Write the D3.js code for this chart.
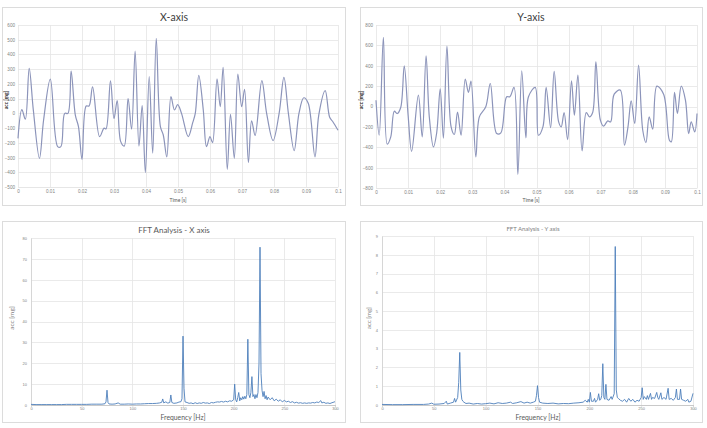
<!DOCTYPE html>
<html><head><meta charset="utf-8">
<script src="https://cdn.jsdelivr.net/npm/d3@7"></script>
<style>
body{margin:0;background:#fff}
svg{display:block;font-family:Lato,"Open Sans","Liberation Sans",sans-serif}
</style>
</head><body>
<svg id="c" width="707" height="428"></svg>
<script>
// ---------- DATA ----------
// X-axis time signal
const timeX = [0,0.0012,0.0023,0.0035,0.0048,0.0067,0.008,0.0101,0.0124,0.0134,0.0146,0.0156,0.0166,0.0179,0.0189,0.02,0.0213,0.0222,0.0233,0.0255,0.0269,0.0275,0.0289,0.03,0.031,0.0321,0.0332,0.0344,0.0355,0.0366,0.0378,0.0388,0.0398,0.041,0.0421,0.0432,0.0445,0.0454,0.0465,0.0478,0.0489,0.0499,0.0511,0.0532,0.0546,0.0554,0.0565,0.0579,0.0589,0.0600,0.0608,0.0622,0.0632,0.0641,0.0654,0.0664,0.0676,0.0687,0.0699,0.0708,0.072,0.073,0.0741,0.0762,0.0777,0.0797,0.0816,0.0831,0.0845,0.0863,0.0878,0.0893,0.0907,0.0928,0.094,0.096,0.0974,0.0984,0.1];
const accX  = [-170,25,-40,305,20,-305,-45,233,-226,-226,0,0,287,-10,-90,-312,50,50,180,-158,-100,-106,220,-35,86,-192,-222,100,-108,423,-222,52,-402,250,-270,510,-90,-147,-295,113,23,60,0,-158,-63,0,258,23,-226,-158,-199,235,45,312,-380,-7,-305,267,45,163,-333,-50,-150,222,0,-185,0,244,0,-253,0,106,68,-295,-10,154,-27,-57,-115];

// Y-axis time signal
const timeY = [0,0.001,0.0023,0.0035,0.0046,0.0057,0.0066,0.0077,0.0088,0.01,0.0111,0.0132,0.0144,0.0156,0.0166,0.0179,0.0189,0.02,0.021,0.0221,0.0234,0.0244,0.0254,0.0265,0.0278,0.0288,0.0296,0.0311,0.0322,0.0342,0.0356,0.0376,0.0389,0.0407,0.0417,0.043,0.0442,0.0454,0.0467,0.0475,0.0496,0.0506,0.0520,0.053,0.0544,0.0555,0.0569,0.0577,0.0586,0.0597,0.0609,0.0618,0.0629,0.0642,0.0655,0.0665,0.0675,0.0685,0.0699,0.0709,0.0722,0.0731,0.0742,0.0761,0.0774,0.0785,0.0795,0.0806,0.0818,0.0831,0.0841,0.0851,0.0862,0.0875,0.0896,0.0914,0.092,0.093,0.0939,0.0951,0.0964,0.0974,0.0982,0.0993,0.1];
const accY  = [62,-282,679,-370,-298,-46,-69,-10,400,-85,-440,111,-298,498,-100,-397,-260,174,-311,593,-200,-275,-56,-282,269,138,249,-495,-102,-3,226,-266,-259,95,95,187,-666,351,-308,95,187,-282,-200,187,-207,344,-151,-200,-59,-325,252,-85,308,-436,-59,-102,-59,439,-134,-193,-141,-151,121,161,-380,-200,56,-167,407,-233,-354,-102,-223,200,121,-331,-347,138,-69,200,62,-266,-151,-249,-69];

// FFT X axis
const fftXFreq = [0,5,10,15,20,25,30,35,40,45,50,55,60,65,70,73,74,75,76,77,80,83,86,88,92,96,100,104,108,112,116,120,124,127,129,130,131,133,135,137,138,139,141,144,146,148,149,150,151,152,154,156,158,160,162,164,166,168,170,172,174,176,178,180,182,184,186,188,190,192,194,196,198,200,201,202,203,204,205,206,207,208,209,210,211,212,213,214,215,216,217,218,219,220,221,222,223,224,225,226,227,228,229,230,231,232,233,234,236,238,240,242,244,246,248,250,252,254,256,258,260,262,264,266,268,270,272,274,276,278,280,282,284,286,287,289,291,293,295,297,299,300];
const fftXAmp  = [0.3,0.2,0.2,0.2,0.2,0.2,0.2,0.3,0.3,0.3,0.3,0.3,0.4,0.4,0.4,0.6,1.5,7.1,1.2,0.5,0.4,0.5,1.0,0.4,0.4,0.5,0.4,0.5,0.5,0.6,0.7,0.7,0.8,1.0,1.3,2.9,1.0,1.5,0.9,1.2,4.8,1.2,0.8,1.0,1.4,1.6,3.0,33,8,1.5,1.2,0.8,1.0,0.6,1.1,0.7,1.0,0.8,1.2,0.9,1.0,0.7,1.2,1.0,1.3,1.5,1.4,1.7,1.4,1.8,1.5,2.0,1.8,2.5,10,2.5,1.5,3.5,6,2,3.5,2.5,4,2.8,4.2,3,5,31.5,5,3.5,6,13.6,4,5,3,5,3.5,6,20,75.6,15,7,4,6.5,3,4.5,2.5,3.8,2.5,3.5,2,2.8,1.8,2.5,1.5,2.2,1.5,1.8,1.2,1.6,1.0,1.3,0.9,1.1,0.8,1.0,0.8,1.0,0.9,1.2,1.0,1.4,1.2,2.1,1.0,1.3,0.8,1.0,0.7,1.1,1.4,1.6];

// FFT Y axis
const fftYFreq = [0,10,20,30,40,45,48,50,55,60,62,63,66,69,70,71,73,74,75,76,77,78,79,81,84,88,92,96,100,104,108,112,116,120,124,126,130,134,137,140,143,146,148,149,150,151,152,155,160,165,170,175,180,185,190,194,196,198,199,200,201,202,204,205,206,208,209,210,211,212,213,214,215,216,217,219,221,222,224,225,226,227,228,230,232,234,236,238,240,242,244,246,248,250,251,252,253,255,256,257,259,260,261,263,265,266,267,269,270,272,274,276,277,279,281,283,284,285,287,288,289,291,293,295,296,298,300];
const fftYAmp  = [0.03,0.02,0.02,0.03,0.03,0.05,0.1,0.04,0.05,0.08,0.2,0.05,0.1,0.15,0.35,0.15,0.4,1.2,2.8,0.8,0.3,0.2,0.15,0.08,0.1,0.05,0.08,0.05,0.07,0.1,0.06,0.12,0.08,0.1,0.15,0.08,0.12,0.18,0.1,0.15,0.1,0.15,0.2,0.5,1.03,0.4,0.15,0.1,0.08,0.1,0.06,0.08,0.07,0.1,0.12,0.15,0.25,0.15,0.3,0.15,0.67,0.2,0.2,0.35,0.15,0.3,0.6,0.25,0.3,0.5,2.2,0.4,0.3,1.1,0.3,0.25,0.45,0.3,0.6,8.44,0.8,0.4,0.35,0.25,0.2,0.3,0.15,0.35,0.2,0.3,0.15,0.25,0.2,0.4,0.92,0.3,0.45,0.3,0.5,0.3,0.62,0.3,0.4,0.35,0.67,0.4,0.3,0.65,0.3,0.4,0.3,0.89,0.3,0.35,0.25,0.4,0.85,0.3,0.3,0.85,0.3,0.25,0.2,0.3,0.15,0.2,0.62];

// Tick values
const timeTicks = [0,0.01,0.02,0.03,0.04,0.05,0.06,0.07,0.08,0.09,0.1];
const accXTicks = [-500,-400,-300,-200,-100,0,100,200,300,400,500,600];
const accYTicks = [-800,-600,-400,-200,0,200,400,600,800];
const freqTicks = [0,50,100,150,200,250,300];
const fftXTicks = [0,10,20,30,40,50,60,70,80];
const fftYTicks = [0,1,2,3,4,5,6,7,8,9];

// ---------- DRAW ----------
const svg = d3.select('#c');
const GRID = '#e4e4e4', TXT = '#7f7f7f';

function panel(o){
  const g = svg.append('g');
  g.append('rect').attr('x',o.box[0]+0.5).attr('y',o.box[1]+0.5)
    .attr('width',o.box[2]).attr('height',o.box[3])
    .attr('fill','#fff').attr('stroke','#dcdcdc').attr('stroke-width',1);
  const [l,r,t,b] = o.plot;
  const x = d3.scaleLinear().domain(o.xDomain).range([l,r]);
  const y = d3.scaleLinear().domain(o.yDomain).range([b,t]);

  g.append('g').selectAll('line').data(o.xTicks).join('line')
    .attr('x1',d=>Math.round(x(d))+0.5).attr('x2',d=>Math.round(x(d))+0.5)
    .attr('y1',t).attr('y2',b).attr('stroke',GRID).attr('stroke-width',0.8);
  g.append('g').selectAll('line').data(o.yTicks).join('line')
    .attr('y1',d=>Math.round(y(d))+0.5).attr('y2',d=>Math.round(y(d))+0.5)
    .attr('x1',l).attr('x2',r).attr('stroke',GRID).attr('stroke-width',0.8);

  const ax = g.append('g').attr('transform',`translate(0,${b})`)
    .call(d3.axisBottom(x).tickValues(o.xTicks).tickSize(o.xTickLen||0).tickPadding(o.xPad).tickFormat(o.xFmt));
  ax.select('.domain').attr('stroke',o.axisColor||GRID).attr('stroke-width',o.axisW||0.8);
  ax.selectAll('.tick line').attr('stroke','#c8c8c8');
  ax.selectAll('text').attr('font-size',o.tickFont).attr('fill',TXT).attr('font-family','inherit');

  const ay = g.append('g').attr('transform',`translate(${l},0)`)
    .call(d3.axisLeft(y).tickValues(o.yTicks).tickSize(0).tickPadding(o.yPad).tickFormat(d3.format('d')));
  ay.select('.domain').attr('stroke',o.yAxisColor||'none').attr('stroke-width',0.8);
  ay.selectAll('text').attr('font-size',o.tickFont).attr('fill',TXT).attr('font-family','inherit');

  const line = d3.line().x((d,i)=>x(o.xs[i])).y(d=>y(d)).curve(o.curve);
  g.append('path').datum(o.ys).attr('d',line).attr('fill','none')
    .attr('stroke',o.color).attr('stroke-width',o.lw).attr('stroke-linejoin','round');

  g.append('text').attr('x',o.titlePos[0]).attr('y',o.titlePos[1]).attr('text-anchor','middle')
    .attr('font-size',o.titleSize).attr('fill',o.titleColor).text(o.title);
  g.append('text').attr('x',o.xTitlePos[0]).attr('y',o.xTitlePos[1]).attr('text-anchor','middle')
    .attr('font-size',o.xTitleSize).attr('fill',o.xTitleColor).text(o.xTitle);
  g.append('text').attr('transform',`translate(${o.yTitlePos[0]},${o.yTitlePos[1]}) rotate(-90)`)
    .attr('text-anchor','middle').attr('font-size',o.yTitleSize).attr('fill',o.yTitleColor)
    .attr('font-weight',o.yTitleWeight||'normal').text('acc [mg]');
}

const timeFmt = d=> d===0 ? '0' : d3.format('.2~f')(d);
const curveSmooth = d3.curveCatmullRom.alpha(0.5);

panel({box:[2,7,343,198], plot:[18,338,25,187], xDomain:[0,0.1], yDomain:[-500,600],
  xTicks:timeTicks, yTicks:accXTicks, xFmt:timeFmt, xPad:3, yPad:3, tickFont:4.6,
  xs:timeX, ys:accX, color:'#8c94ba', lw:1.2, curve:curveSmooth,
  title:'X-axis', titlePos:[174,21], titleSize:10.5, titleColor:'#404040',
  xTitle:'Time [s]', xTitlePos:[178,202], xTitleSize:5, xTitleColor:'#595959',
  yTitlePos:[8,100], yTitleSize:5, yTitleColor:'#333', yTitleWeight:'bold'});

panel({box:[360,7,342,198], plot:[376,697,25,188], xDomain:[0,0.1], yDomain:[-800,800],
  xTicks:timeTicks, yTicks:accYTicks, xFmt:timeFmt, xPad:3, yPad:3, tickFont:4.6,
  xs:timeY, ys:accY, color:'#8c94ba', lw:1.2, curve:curveSmooth,
  title:'Y-axis', titlePos:[531,21], titleSize:10.5, titleColor:'#404040',
  xTitle:'Time [s]', xTitlePos:[531,202], xTitleSize:5, xTitleColor:'#595959',
  yTitlePos:[363,100], yTitleSize:5, yTitleColor:'#333', yTitleWeight:'bold'});

panel({box:[2,221,343,201], plot:[31,335,238,405], xDomain:[0,300], yDomain:[0,80],
  xTicks:freqTicks, yTicks:fftXTicks, xFmt:d3.format('d'), xPad:1, yPad:4, tickFont:4,
  xTickLen:1.5, axisColor:'#c0c0c0', yAxisColor:'#d0d0d0',
  xs:fftXFreq, ys:fftXAmp, color:'#4d7fbb', lw:0.9, curve:d3.curveLinear,
  title:'FFT Analysis - X axis', titlePos:[174,233], titleSize:8, titleColor:'#595959',
  xTitle:'Frequency [Hz]', xTitlePos:[183,419.5], xTitleSize:6.8, xTitleColor:'#595959',
  yTitlePos:[14,318], yTitleSize:6.5, yTitleColor:'#7f7f7f'});

panel({box:[360,221,342,201], plot:[382,693,236,405], xDomain:[0,300], yDomain:[0,9],
  xTicks:freqTicks, yTicks:fftYTicks, xFmt:d3.format('d'), xPad:1, yPad:4, tickFont:4,
  xTickLen:1.5, axisColor:'#c0c0c0', yAxisColor:'#d0d0d0',
  xs:fftYFreq, ys:fftYAmp, color:'#4d7fbb', lw:0.9, curve:d3.curveLinear,
  title:'FFT Analysis - Y axis', titlePos:[533,231], titleSize:6, titleColor:'#7f7f7f',
  xTitle:'Frequency [Hz]', xTitlePos:[538,419.5], xTitleSize:6.8, xTitleColor:'#595959',
  yTitlePos:[371,318], yTitleSize:6, yTitleColor:'#7f7f7f'});
</script>
</body></html>
